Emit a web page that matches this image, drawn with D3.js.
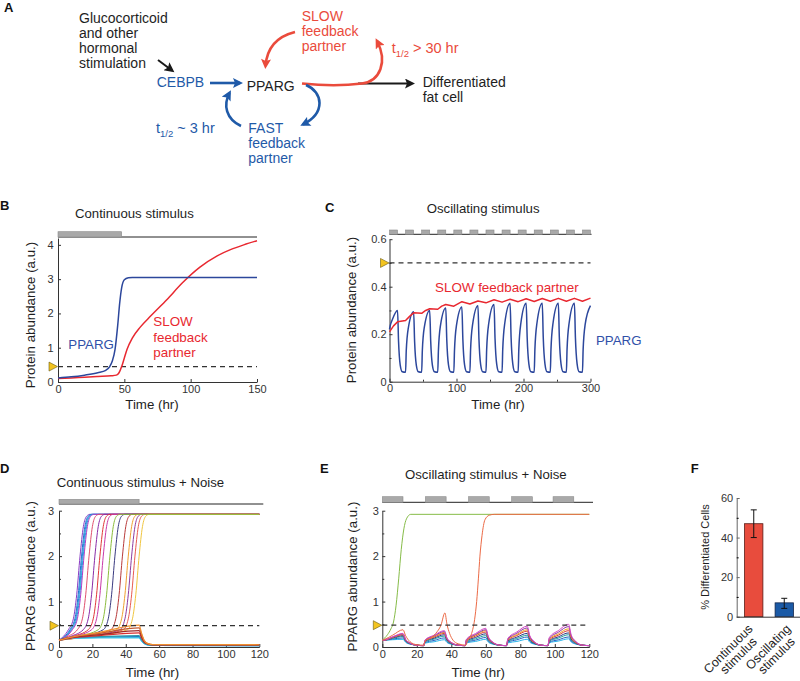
<!DOCTYPE html>
<html><head><meta charset="utf-8">
<script src="https://cdn.jsdelivr.net/npm/d3@7"></script>
<style>
body{margin:0;background:#fff;}
svg text{font-family:"Liberation Sans",Arial,Helvetica,sans-serif;}
</style></head><body>
<svg id="fig" width="800" height="681"></svg>
<script>
// ---------------- DATA ----------------
// Panel B (continuous stimulus), [time hr, abundance]
const bStim = [[0, 48]];
const bPPARG = [[0,.12],[10,.15],[20,.2],[30,.27],[36,.34],[39,.45],[41,.62],[43,.95],[45,1.65],[46.5,2.3],[48,2.75],[50,2.98],[53,3.04],[56,3.05],[150,3.05]];
const bSlow = [[0,.1],[10,.12],[20,.14],[30,.16],[40,.18],[44,.2],[46,.27],[48,.45],[50,.7],[52,.95],[56,1.28],[62,1.6],[70,1.93],[82,2.4],[94,2.9],[107,3.35],[120,3.68],[130,3.86],[140,4.0],[150,4.12]];
const bThreshold = 0.45;
const bXTicks = [0, 50, 100, 150];
const bYTicks = [0, 1, 2, 3, 4];

// Panel C (oscillating stimulus)
const cStim = [[0,12],[24,36],[48,60],[72,84],[96,108],[120,132],[144,156],[168,180],[192,204],[216,228],[240,252],[264,276],[288,300]];
const cTime = [0,1,4,12,13.5,16,19, 24,25,28,36,37.5,40,43, 48,49,52,60,61.5,64,67, 72,73,76,84,85.5,88,91, 96,97,100,108,109.5,112,115, 120,121,124,132,133.5,136,139, 144,145,148,156,157.5,160,163, 168,169,172,180,181.5,184,187, 192,193,196,204,205.5,208,211, 216,217,220,228,229.5,232,235, 240,241,244,252,253.5,256,259, 264,265,268,276,277.5,280,283, 288,289,292,300];
const cPPARG = [.22,.235,.26,.30,.17,.07,.042, .04,.13,.225,.295,.168,.07,.042, .04,.13,.23,.30,.17,.07,.042, .04,.13,.235,.31,.175,.072,.042, .04,.132,.238,.315,.178,.072,.042, .04,.133,.24,.32,.18,.073,.042, .04,.134,.243,.325,.183,.074,.042, .04,.135,.245,.33,.185,.075,.042, .04,.135,.245,.33,.185,.075,.042, .04,.135,.245,.33,.185,.075,.042, .04,.135,.245,.33,.185,.075,.042, .04,.135,.245,.33,.185,.075,.042, .04,.135,.24,.32];
const cSlow = [[0,.21],[6,.235],[12,.252],[24,.258],[30,.275],[36,.29],[48,.288],[54,.3],[60,.307],[72,.305],[78,.318],[84,.325],[96,.318],[102,.328],[108,.337],[120,.327],[132,.34],[144,.332],[156,.345],[168,.335],[180,.347],[192,.337],[204,.349],[216,.338],[228,.35],[240,.339],[252,.351],[264,.339],[276,.351],[288,.339],[300,.352]];
const cThreshold = 0.5;
const cXTicks = [0, 100, 200, 300], cXMinor = [50, 150, 250];
const cYTicks = [0, 0.2, 0.4, 0.6], cYMinor = [0.1, 0.3, 0.5];

// Panel D (continuous + noise): cells that switch, then cells that do not
const dStim = [[0, 48]];
const dSwitchers = [
  [[0,.15],[5.6,.38],[8.6,.62],[10.6,1.15],[12.6,2],[14.6,2.65],[16.6,2.88],[18.6,2.92],[120,2.92]],
  [[0,.15],[6.5,.38],[9.5,.62],[11.5,1.15],[13.5,2],[15.5,2.65],[17.5,2.88],[19.5,2.92],[120,2.92]],
  [[0,.15],[7,.38],[10,.62],[12,1.15],[14,2],[16,2.65],[18,2.88],[20,2.92],[120,2.92]],
  [[0,.15],[7.5,.38],[10.5,.62],[12.5,1.15],[14.5,2],[16.5,2.65],[18.5,2.88],[20.5,2.92],[120,2.92]],
  [[0,.15],[8,.38],[11,.62],[13,1.15],[15,2],[17,2.65],[19,2.88],[21,2.92],[120,2.92]],
  [[0,.15],[5.5,.24],[11,.38],[14,.62],[16,1.15],[18,2],[20,2.65],[22,2.88],[24,2.92],[120,2.92]],
  [[0,.15],[7.3,.24],[14.5,.38],[17.5,.62],[19.5,1.15],[21.5,2],[23.5,2.65],[25.5,2.88],[27.5,2.92],[120,2.92]],
  [[0,.15],[8.8,.24],[17.5,.38],[20.5,.62],[22.5,1.15],[24.5,2],[26.5,2.65],[28.5,2.88],[30.5,2.92],[120,2.92]],
  [[0,.15],[9.8,.24],[19.5,.38],[22.5,.62],[24.5,1.15],[26.5,2],[28.5,2.65],[30.5,2.88],[32.5,2.92],[120,2.92]],
  [[0,.15],[13.3,.24],[26.5,.38],[29.5,.62],[31.5,1.15],[33.5,2],[35.5,2.65],[37.5,2.88],[39.5,2.92],[120,2.92]],
  [[0,.15],[15.5,.24],[31,.38],[34,.62],[36,1.15],[38,2],[40,2.65],[42,2.88],[44,2.92],[120,2.92]],
  [[0,.15],[17.3,.24],[34.5,.38],[37.5,.62],[39.5,1.15],[41.5,2],[43.5,2.65],[45.5,2.88],[47.5,2.92],[120,2.92]],
  [[0,.15],[18.3,.24],[36.5,.38],[39.5,.62],[41.5,1.15],[43.5,2],[45.5,2.65],[47.5,2.88],[49.5,2.92],[120,2.92]],
  [[0,.15],[19.3,.24],[38.5,.38],[41.5,.62],[43.5,1.15],[45.5,2],[47.5,2.65],[49.5,2.88],[51.5,2.92],[120,2.92]],
  [[0,.15],[20.5,.24],[41,.38],[44,.62],[46,1.15],[48,2],[50,2.65],[52,2.88],[54,2.92],[120,2.92]],
  [[0,.15],[11.8,.24],[23.5,.38],[26.5,.62],[28.5,1.15],[30.5,2],[32.5,2.65],[34.5,2.88],[36.5,2.92],[120,2.92]]
];
const dStayers = [
  [[0,.15],[8,.2],[24,.21],[48,.21],[49.5,.14],[51,.08],[53,.05],[56,.035],[120,.03]],
  [[0,.15],[8,.2],[24,.22],[48,.23],[49.5,.15],[51,.085],[53,.05],[56,.035],[120,.03]],
  [[0,.15],[8,.19],[24,.2],[48,.2],[49.5,.13],[51,.075],[53,.045],[56,.035],[120,.03]],
  [[0,.15],[8,.21],[24,.23],[48,.25],[49.5,.16],[51,.09],[53,.055],[56,.04],[120,.035]],
  [[0,.15],[8,.2],[24,.25],[48,.31],[49.5,.2],[51,.11],[53,.065],[56,.048],[120,.045]],
  [[0,.15],[8,.21],[24,.27],[48,.36],[49.5,.23],[51,.12],[53,.07],[56,.05],[120,.048]],
  [[0,.15],[8,.22],[24,.3],[48,.42],[49.5,.27],[51,.14],[53,.075],[56,.052],[120,.05]],
  [[0,.15],[8,.22],[24,.32],[48,.48],[49.5,.3],[51,.15],[53,.08],[56,.055],[120,.05]]
];
const dThreshold = 0.47;
const xTicks120 = [0, 20, 40, 60, 80, 100, 120];
const yTicks3 = [0, 1, 2, 3], yMinor3 = [0.5, 1.5, 2.5];

// Panel E (oscillating + noise)
const eStim = [[0,12],[25,37],[50,62],[75,87],[99,111]];
const eTime = [0,0.8,6,12,13.5,16,20, 24,24.8,30,36,37.5,40,44, 48,48.8,54,60,61.5,64,68, 72,72.8,78,84,85.5,88,92, 96,96.8,102,108,109.5,112,116, 120];
const eCells = [
  [.15,.15,.16,.17,.105,.064,.04, .03,.086,.115,.16,.10,.062,.04, .03,.09,.122,.17,.105,.064,.04, .03,.09,.122,.17,.105,.064,.04, .03,.093,.13,.18,.11,.066,.04, .03],
  [.15,.15,.175,.2,.12,.07,.04, .03,.1,.144,.2,.12,.07,.04, .03,.104,.151,.21,.125,.072,.04, .03,.107,.158,.22,.13,.074,.04, .03,.107,.158,.22,.13,.074,.04, .03],
  [.15,.15,.19,.23,.135,.076,.04, .03,.114,.173,.24,.14,.078,.04, .03,.118,.18,.25,.145,.08,.04, .03,.121,.187,.26,.15,.082,.04, .03,.125,.194,.27,.155,.084,.04, .03],
  [.15,.15,.2,.25,.145,.08,.04, .03,.125,.194,.27,.155,.084,.04, .03,.132,.209,.29,.165,.088,.04, .03,.135,.216,.3,.17,.09,.04, .03,.139,.223,.31,.175,.092,.04, .03],
  [.15,.15,.21,.27,.155,.084,.04, .03,.135,.216,.3,.17,.09,.04, .03,.146,.238,.33,.185,.096,.04, .03,.153,.252,.35,.195,.1,.04, .03,.156,.259,.36,.2,.102,.04, .03],
  [.15,.15,.215,.28,.16,.086,.04, .03,.142,.23,.32,.18,.094,.04, .03,.156,.259,.36,.2,.102,.04, .03,.163,.274,.38,.21,.106,.04, .03,.17,.288,.4,.22,.11,.04, .03],
  [.15,.15,.22,.29,.165,.088,.04, .03,.149,.245,.34,.19,.098,.04, .03,.163,.274,.38,.21,.106,.04, .03,.177,.302,.42,.23,.114,.04, .03,.188,.324,.45,.245,.12,.04, .03],
  [.15,.15,.225,.3,.17,.09,.04, .03,.156,.259,.36,.2,.102,.04, .03,.174,.295,.41,.225,.112,.04, .03,.191,.331,.46,.25,.122,.04, .03,.205,.36,.5,.27,.13,.04, .03]
];
const eLateSwitcher = [[0,.15],[0.8,.16],[6,.26],[12,.38],[13.5,.25],[16,.12],[20,.05],[24,.04],[24.8,.13],[28,.2],[31,.3],[34,.48],[36.3,.75],[37.5,.5],[39,.3],[41,.15],[44,.07],[48.5,.04],[49.3,.13],[51.8,.3],[53.5,.6],[54.7,1.0],[55.7,1.5],[56.6,2.0],[57.8,2.45],[59.5,2.8],[62,2.9],[65,2.92],[120,2.92]];
const eEarlySwitcher = [[0,.15],[3,.27],[5,.4],[6.5,.55],[8,.92],[9.5,1.5],[11,2.15],[12.5,2.6],[14,2.82],[16.5,2.92],[120,2.92]];
const eThreshold = 0.48;

// Panel F (bar chart)
const fCategories = ["Continuous stimulus", "Oscillating stimulus"];
const fMeans = [47, 7];
const fErrLow = [40, 4.2];
const fErrHigh = [54, 9.3];
const fYTicks = [0, 20, 40, 60], fYMinor = [10, 30, 50];

// ---------------- STYLE ----------------
const FONT = '"Liberation Sans", Arial, Helvetica, sans-serif';
const INK = "#1e1e1e", AX = "#333";
const BLUE_A = "#1f5aa8", RED_A = "#ea4b3c";
const PPARG_C = "#2c479c", SLOW_C = "#e82830";
const dSwitchColors = ["#8a3cc4","#1f6fd0","#2a8ad8","#1fa8e0","#b43cc8","#e0506e","#8a2ca8","#e03838","#c838a8","#3a3a80","#b83a3a","#f0a030","#8c3ca0","#e85a50","#f0c640","#8cbc3c"];
const dStayColors = ["#2ab4e8","#2a6cc8","#40c8e8","#2a9aa8","#d83030","#a02828","#c45a30","#f09030"];
const eColors = ["#27b4ea","#2460c4","#22a29a","#2e3a86","#d83a34","#f0a024","#8a34a8","#d64ac4"];

const svg = d3.select("#fig");
const defs = svg.append("defs");
function marker(id, color) {
  defs.append("marker").attr("id", id).attr("viewBox", "0 0 10 10")
    .attr("refX", 7).attr("refY", 5).attr("markerWidth", 11).attr("markerHeight", 10)
    .attr("markerUnits", "userSpaceOnUse").attr("orient", "auto")
    .append("path").attr("d", "M0,0 L10,5 L0,10 L2,5 Z").attr("fill", color);
}
marker("arBlue", BLUE_A); marker("arRed", RED_A); marker("arBlack", "#1a1a1a");

function txt(x, y, s, o = {}) {
  const t = svg.append("text").attr("x", x).attr("y", y).text(s)
    .attr("font-size", o.size || 13.2).attr("fill", o.fill || INK)
    .attr("font-weight", o.bold ? "bold" : null)
    .attr("text-anchor", o.anchor || "start");
  return t;
}
function panelLabel(x, y, s) { txt(x, y, s, {size: 13, bold: true, fill: "#111"}); }

// ---------------- PANEL A (diagram) ----------------
panelLabel(4, 12, "A");
["Glucocorticoid", "and other", "hormonal", "stimulation"].forEach((s, i) => txt(79, 22.7 + i * 15, s, {size: 14}));
txt(156.7, 87.3, "CEBPB", {size: 14, fill: BLUE_A});
txt(246.7, 91, "PPARG", {size: 14});
txt(422.7, 87.3, "Differentiated", {size: 14});
txt(422.7, 101.7, "fat cell", {size: 14});
["SLOW", "feedback", "partner"].forEach((s, i) => txt(301.7, 21.3 + i * 15, s, {size: 14, fill: RED_A}));
["FAST", "feedback", "partner"].forEach((s, i) => txt(248.3, 132.5 + i * 15, s, {size: 14, fill: BLUE_A}));
{
  const t1 = txt(391.7, 53.3, "t", {size: 14.5, fill: RED_A});
  t1.append("tspan").attr("font-size", 9.5).attr("dy", 4).text("1/2");
  t1.append("tspan").attr("dy", -4).text(" > 30 hr");
  const t2 = txt(156, 133.3, "t", {size: 14.5, fill: BLUE_A});
  t2.append("tspan").attr("font-size", 9.5).attr("dy", 4).text("1/2");
  t2.append("tspan").attr("dy", -4).text(" ~ 3 hr");
}
function arrow(d, color, mk, w) {
  svg.append("path").attr("d", d).attr("fill", "none").attr("stroke", color)
    .attr("stroke-width", w).attr("marker-end", `url(#${mk})`);
}
arrow("M158,60 L172,70.5", "#1a1a1a", "arBlack", 2);
arrow("M210,83 L240,83", BLUE_A, "arBlue", 2.6);
arrow("M358,83.5 L412,83.5", "#1a1a1a", "arBlack", 2);
arrow("M302,83.5 Q335,87 362,83.5 C380,81 388,62 377,41", RED_A, "arRed", 2.6);
arrow("M295,32 C279,36 267,46 265.5,66", RED_A, "arRed", 2.6);
arrow("M306,85 C323,92 326,113 303,124.5", BLUE_A, "arBlue", 2.6);
arrow("M241,126 C226,119 223,105 229.5,93", BLUE_A, "arBlue", 2.6);

// ---------------- helpers for plots ----------------
function axes(x, y, o) {
  const g = svg.append("g");
  const y0 = y.range()[0], x0 = x.range()[0];
  g.append("g").attr("transform", `translate(0,${y0})`)
    .call(d3.axisBottom(x).tickValues(o.xt).tickSizeInner(-3).tickSizeOuter(0).tickPadding(3));
  if (o.xm) g.append("g").attr("transform", `translate(0,${y0})`)
    .call(d3.axisBottom(x).tickValues(o.xm).tickSizeInner(-2).tickSizeOuter(0).tickFormat(""))
    .select(".domain").remove();
  g.append("g").attr("transform", `translate(${x0},0)`)
    .call(d3.axisLeft(y).tickValues(o.yt).tickSizeInner(-3).tickSizeOuter(0).tickPadding(o.ypad).tickFormat(o.yf || (d => d)));
  if (o.ym) g.append("g").attr("transform", `translate(${x0},0)`)
    .call(d3.axisLeft(y).tickValues(o.ym).tickSizeInner(-2).tickSizeOuter(0).tickFormat(""))
    .select(".domain").remove();
  g.selectAll(".domain, .tick line").attr("stroke", AX).attr("stroke-width", 1);
  g.selectAll("g").attr("font-family", FONT).attr("font-size", 11);
  g.selectAll(".tick text").attr("fill", "#333");
}
function yLabel(cx, cy, s) {
  svg.append("text").attr("transform", `translate(${cx},${cy}) rotate(-90)`)
    .attr("text-anchor", "middle").attr("dy", "0.35em").attr("font-size", 13.3).attr("fill", INK).text(s);
}
function stim(x, bars, yTop, h, xEnd) {
  svg.append("line").attr("x1", x.range()[0]).attr("x2", xEnd).attr("y1", yTop + h).attr("y2", yTop + h)
    .attr("stroke", "#222").attr("stroke-width", 1);
  svg.selectAll(null).data(bars).join("rect")
    .attr("x", d => x(d[0])).attr("width", d => x(d[1]) - x(d[0]))
    .attr("y", yTop).attr("height", h)
    .attr("fill", "#a9a9a9").attr("stroke", "#8a8a8a").attr("stroke-width", 0.6);
}
function threshold(x, y, v) {
  const [xa, xb] = x.range(), yy = y(v);
  svg.append("line").attr("x1", xa).attr("x2", xb).attr("y1", yy).attr("y2", yy)
    .attr("stroke", "#333").attr("stroke-width", 1.3).attr("stroke-dasharray", "5,4");
  svg.append("path").attr("d", `M${xa - 9},${yy - 4.5} L${xa - 0.5},${yy} L${xa - 9},${yy + 4.5} Z`)
    .attr("fill", "#f3c41f").attr("stroke", "#6a5a10").attr("stroke-width", 0.6);
}
function plotLine(x, y, data, color, w, curve) {
  svg.append("path").datum(data)
    .attr("d", d3.line().x(d => x(d[0])).y(d => y(d[1])).curve(curve || d3.curveMonotoneX))
    .attr("fill", "none").attr("stroke", color).attr("stroke-width", w).attr("stroke-linejoin", "round");
}

// ---------------- PANEL B ----------------
{
  const x = d3.scaleLinear().domain([0, 150]).range([58, 257]);
  const y = d3.scaleLinear().domain([0, 4.2]).range([382, 238]);
  panelLabel(0, 210, "B");
  txt(75, 218.3, "Continuous stimulus");
  stim(x, bStim, 231.7, 5.3, 257);
  axes(x, y, {xt: bXTicks, yt: bYTicks, ypad: 4.5});
  threshold(x, y, bThreshold);
  plotLine(x, y, bSlow, SLOW_C, 1.5);
  plotLine(x, y, bPPARG, PPARG_C, 1.5);
  txt(68.3, 349, "PPARG", {size: 13.3, fill: "#3050a8"});
  ["SLOW", "feedback", "partner"].forEach((s, i) => txt(153.3, 326 + i * 15.7, s, {size: 13.4, fill: SLOW_C}));
  txt(152, 408.5, "Time (hr)", {size: 13.3, anchor: "middle"});
  yLabel(30, 315, "Protein abundance (a.u.)");
}

// ---------------- PANEL C ----------------
{
  const x = d3.scaleLinear().domain([0, 300]).range([389.5, 590.5]);
  const y = d3.scaleLinear().domain([0, 0.6]).range([381.7, 239.2]);
  panelLabel(325, 211.7, "C");
  txt(426.7, 212.7, "Oscillating stimulus");
  stim(x, cStim, 230, 4.3, 591.5);
  axes(x, y, {xt: cXTicks, xm: cXMinor, yt: cYTicks, ym: cYMinor, ypad: 3,
              yf: d => d === 0 ? "0" : d.toFixed(1)});
  threshold(x, y, cThreshold);
  plotLine(x, y, cTime.map((t, i) => [t, cPPARG[i]]), PPARG_C, 1.5);
  plotLine(x, y, cSlow, SLOW_C, 1.5, d3.curveLinear);
  txt(435, 291.7, "SLOW feedback partner", {size: 13.4, fill: SLOW_C});
  txt(596, 345, "PPARG", {size: 13.3, fill: "#3050a8"});
  txt(498, 409, "Time (hr)", {size: 13.3, anchor: "middle"});
  yLabel(351.7, 310, "Protein abundance (a.u.)");
}

// ---------------- PANEL D ----------------
{
  const x = d3.scaleLinear().domain([0, 120]).range([59, 259.3]);
  const y = d3.scaleLinear().domain([0, 3]).range([647, 510.7]);
  panelLabel(0, 472.7, "D");
  txt(56.7, 486.7, "Continuous stimulus + Noise");
  stim(x, dStim, 499.3, 4.7, 263.3);
  axes(x, y, {xt: xTicks120, yt: yTicks3, ym: yMinor3, ypad: 5});
  dSwitchers.forEach((s, i) => plotLine(x, y, s, dSwitchColors[i], 1));
  dStayers.forEach((s, i) => plotLine(x, y, s, dStayColors[i], 1.2));
  threshold(x, y, dThreshold);
  txt(152.5, 676.5, "Time (hr)", {size: 13.3, anchor: "middle"});
  yLabel(30, 576, "PPARG abundance (a.u.)");
}

// ---------------- PANEL E ----------------
{
  const x = d3.scaleLinear().domain([0, 120]).range([382.3, 589.3]);
  const y = d3.scaleLinear().domain([0, 3]).range([647, 510.7]);
  panelLabel(320, 472.7, "E");
  txt(405, 479.3, "Oscillating stimulus + Noise");
  stim(x, eStim, 496.7, 5.6, 593);
  axes(x, y, {xt: xTicks120, yt: yTicks3, ym: yMinor3, ypad: 3.5});
  eCells.forEach((vals, i) => plotLine(x, y, eTime.map((t, j) => [t, vals[j]]), eColors[i], 1));
  plotLine(x, y, eEarlySwitcher, "#86bc48", 1);
  plotLine(x, y, eLateSwitcher, "#ec6a46", 1);
  threshold(x, y, eThreshold);
  txt(478.3, 676.5, "Time (hr)", {size: 13.3, anchor: "middle"});
  yLabel(352, 576.5, "PPARG abundance (a.u.)");
}

// ---------------- PANEL F ----------------
{
  const x = d3.scaleBand().domain(fCategories).range([738.5, 799.5]).paddingInner(0.4).paddingOuter(0.2);
  const y = d3.scaleLinear().domain([0, 60]).range([616.7, 498]);
  // anchor points of the rotated category labels (end of first line)
  const xLab = d3.scalePoint().domain(fCategories).range([753.5, 791.5]);
  panelLabel(690.7, 473.3, "F");
  const barFill = ["#e84c3d", "#1b5aa6"], barStroke = ["#5a1a14", "#10244a"];
  svg.selectAll(null).data(fCategories).join("rect")
    .attr("x", d => x(d)).attr("width", x.bandwidth())
    .attr("y", (d, i) => y(fMeans[i])).attr("height", (d, i) => y(0) - y(fMeans[i]))
    .attr("fill", (d, i) => barFill[i]).attr("stroke", (d, i) => barStroke[i]).attr("stroke-width", 0.8);
  fCategories.forEach((c, i) => {
    const cx = x(c) + x.bandwidth() / 2;
    const g = svg.append("g").attr("stroke", "#111").attr("stroke-width", 1);
    g.append("line").attr("x1", cx).attr("x2", cx).attr("y1", y(fErrLow[i])).attr("y2", y(fErrHigh[i]));
    g.append("line").attr("x1", cx - 3).attr("x2", cx + 3).attr("y1", y(fErrLow[i])).attr("y2", y(fErrLow[i]));
    g.append("line").attr("x1", cx - 3).attr("x2", cx + 3).attr("y1", y(fErrHigh[i])).attr("y2", y(fErrHigh[i]));
    const words = c.split(" ");
    const t = svg.append("text").attr("transform", `translate(${xLab(c)},629.6) rotate(-45)`)
      .attr("text-anchor", "end").attr("font-size", 12.5).attr("fill", INK);
    t.append("tspan").attr("x", 0).attr("dy", 0).text(words[0]);
    t.append("tspan").attr("x", -6).attr("dy", 12).text(words[1]);
  });
  const ga = svg.append("g").attr("transform", "translate(736.7,0)");
  ga.call(d3.axisLeft(y).tickValues(fYTicks).tickSizeInner(-3).tickSizeOuter(0).tickPadding(3.5));
  svg.append("g").attr("transform", "translate(736.7,0)")
    .call(d3.axisLeft(y).tickValues(fYMinor).tickSizeInner(-2).tickSizeOuter(0).tickFormat(""))
    .select(".domain").remove();
  ga.attr("font-family", FONT).attr("font-size", 11);
  ga.selectAll(".domain, .tick line").attr("stroke", "#666");
  ga.selectAll(".tick text").attr("fill", "#333");
  svg.append("line").attr("x1", 736.7).attr("x2", 800).attr("y1", y(0) + 0.5).attr("y2", y(0) + 0.5)
    .attr("stroke", "#333").attr("stroke-width", 1);
  svg.append("text").attr("transform", "translate(705,557) rotate(-90)")
    .attr("text-anchor", "middle").attr("dy", "0.35em").attr("font-size", 11).attr("fill", INK)
    .text("% Differentiated Cells");
}
</script>
</body></html>
